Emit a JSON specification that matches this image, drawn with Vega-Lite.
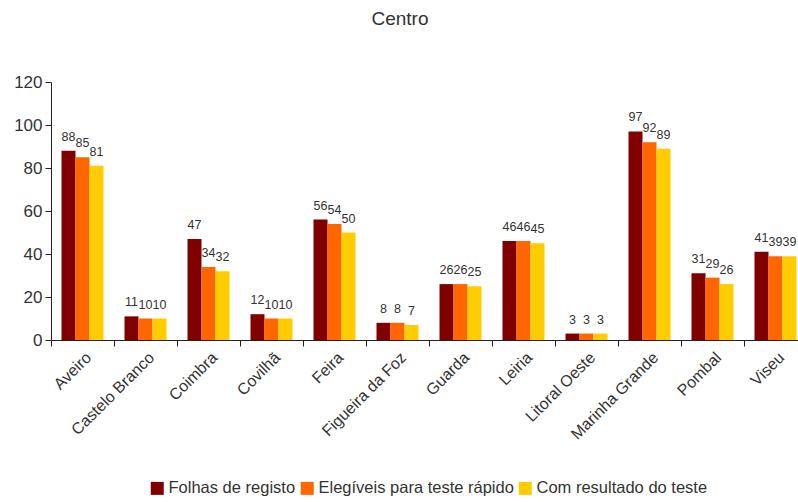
{
  "$schema": "https://vega.github.io/schema/vega-lite/v6.json",
  "autosize": "none",
  "padding": {"left": 51, "top": 82, "right": 0, "bottom": 162},
  "width": 756,
  "height": 258,
  "title": {"text": "Centro", "fontSize": 19, "font": "Liberation Sans", "fontWeight": "normal", "color": "#333", "offset": 44, "dx": -29},
  "config": {
    "view": {"stroke": null},
    "font": "Liberation Sans",
    "axis": {"labelFont": "Liberation Sans", "labelColor": "#333", "labelFontSize": 16, "domainColor": "#222", "tickColor": "#222", "grid": false, "title": null}
  },
  "data": {"values": [
    {"c": "Aveiro", "s": "Folhas de registo", "v": 88},
    {"c": "Aveiro", "s": "Elegíveis para teste rápido", "v": 85},
    {"c": "Aveiro", "s": "Com resultado do teste", "v": 81},
    {"c": "Castelo Branco", "s": "Folhas de registo", "v": 11},
    {"c": "Castelo Branco", "s": "Elegíveis para teste rápido", "v": 10},
    {"c": "Castelo Branco", "s": "Com resultado do teste", "v": 10},
    {"c": "Coimbra", "s": "Folhas de registo", "v": 47},
    {"c": "Coimbra", "s": "Elegíveis para teste rápido", "v": 34},
    {"c": "Coimbra", "s": "Com resultado do teste", "v": 32},
    {"c": "Covilhã", "s": "Folhas de registo", "v": 12},
    {"c": "Covilhã", "s": "Elegíveis para teste rápido", "v": 10},
    {"c": "Covilhã", "s": "Com resultado do teste", "v": 10},
    {"c": "Feira", "s": "Folhas de registo", "v": 56},
    {"c": "Feira", "s": "Elegíveis para teste rápido", "v": 54},
    {"c": "Feira", "s": "Com resultado do teste", "v": 50},
    {"c": "Figueira da Foz", "s": "Folhas de registo", "v": 8},
    {"c": "Figueira da Foz", "s": "Elegíveis para teste rápido", "v": 8},
    {"c": "Figueira da Foz", "s": "Com resultado do teste", "v": 7},
    {"c": "Guarda", "s": "Folhas de registo", "v": 26},
    {"c": "Guarda", "s": "Elegíveis para teste rápido", "v": 26},
    {"c": "Guarda", "s": "Com resultado do teste", "v": 25},
    {"c": "Leiria", "s": "Folhas de registo", "v": 46},
    {"c": "Leiria", "s": "Elegíveis para teste rápido", "v": 46},
    {"c": "Leiria", "s": "Com resultado do teste", "v": 45},
    {"c": "Litoral Oeste", "s": "Folhas de registo", "v": 3},
    {"c": "Litoral Oeste", "s": "Elegíveis para teste rápido", "v": 3},
    {"c": "Litoral Oeste", "s": "Com resultado do teste", "v": 3},
    {"c": "Marinha Grande", "s": "Folhas de registo", "v": 97},
    {"c": "Marinha Grande", "s": "Elegíveis para teste rápido", "v": 92},
    {"c": "Marinha Grande", "s": "Com resultado do teste", "v": 89},
    {"c": "Pombal", "s": "Folhas de registo", "v": 31},
    {"c": "Pombal", "s": "Elegíveis para teste rápido", "v": 29},
    {"c": "Pombal", "s": "Com resultado do teste", "v": 26},
    {"c": "Viseu", "s": "Folhas de registo", "v": 41},
    {"c": "Viseu", "s": "Elegíveis para teste rápido", "v": 39},
    {"c": "Viseu", "s": "Com resultado do teste", "v": 39}
  ]},
  "encoding": {
    "x": {"field": "c", "type": "nominal", "sort": null,
      "scale": {"paddingInner": 0, "paddingOuter": 0},
      "axis": {"labelAngle": -45, "tickBand": "extent", "tickSize": 6, "labelPadding": 3}},
    "xOffset": {"field": "s", "type": "nominal", "sort": ["Folhas de registo", "Elegíveis para teste rápido", "Com resultado do teste"],
      "scale": {"paddingInner": 0, "paddingOuter": 0.75}},
    "y": {"field": "v", "type": "quantitative",
      "scale": {"domain": [0, 120]},
      "axis": {"values": [0, 20, 40, 60, 80, 100, 120], "tickSize": 6, "labelPadding": 3, "labelFontSize": 17}}
  },
  "layer": [
    {"mark": {"type": "bar"},
     "encoding": {
      "color": {"field": "s", "type": "nominal", "sort": ["Folhas de registo", "Elegíveis para teste rápido", "Com resultado do teste"],
        "scale": {"domain": ["Folhas de registo", "Elegíveis para teste rápido", "Com resultado do teste"], "range": ["#800000", "#FF6600", "#FFCC00"]},
        "legend": {"title": null, "orient": "none", "legendX": 98, "legendY": 398, "direction": "horizontal",
          "symbolType": "square", "symbolSize": 169, "symbolStrokeWidth": 0, "labelFontSize": 16.5, "labelColor": "#333",
          "labelFont": "Liberation Sans", "labelOffset": 3, "columnPadding": 3, "labelLimit": 300}}
     }},
    {"mark": {"type": "text", "baseline": "alphabetic", "dy": -10, "fontSize": 12.5, "color": "#333"},
     "encoding": {"text": {"field": "v", "type": "quantitative"}}}
  ]
}
